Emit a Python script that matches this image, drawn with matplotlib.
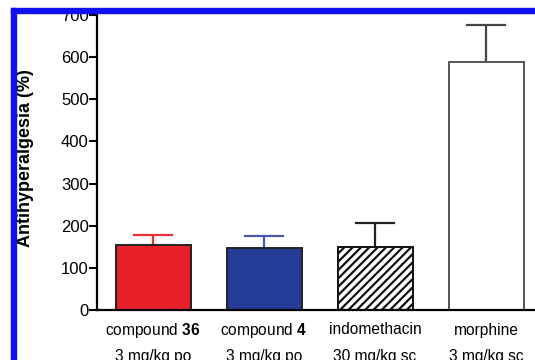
import numpy as np
import matplotlib.pyplot as plt
from matplotlib.patches import Rectangle
from matplotlib.transforms import blended_transform_factory, offset_copy

plt.rcParams['font.family'] = ['Liberation Sans', 'DejaVu Sans']
plt.rcParams['mathtext.fontset'] = 'custom'
plt.rcParams['mathtext.rm'] = 'Liberation Sans'
plt.rcParams['mathtext.bf'] = 'Liberation Sans:bold'
plt.rcParams['hatch.linewidth'] = 1.6

# Data
names = ["compound $\\mathbf{36}$", "compound $\\mathbf{4}$", "indomethacin", "morphine"]
doses = ["3 mg/kg po", "3 mg/kg po", "30 mg/kg sc", "3 mg/kg sc"]
values = [154, 147, 150, 588]
errors = [24, 29, 57, 88]
colors = ["#e8202a", "#253d96", "white", "white"]
edges = ["#222222", "#222222", "#111111", "#555555"]
errcolors = ["#e8303a", "#4a5aa8", "#222222", "#444444"]
hatches = [None, None, "////", None]

fig = plt.figure(figsize=(5.35, 3.6), dpi=100)
ax = fig.add_axes([97/535, 50/360, 1 - 97/535, 295/360])

x = np.arange(len(values))
for i in range(len(values)):
    ax.bar(x[i], values[i], width=0.675, color=colors[i], edgecolor=edges[i],
           linewidth=1.4, hatch=hatches[i], zorder=2)
    ax.errorbar(x[i], values[i] + errors[i] / 2, yerr=errors[i] / 2, fmt='none',
                ecolor=errcolors[i], elinewidth=1.6, capsize=0, zorder=1)
    ax.plot([x[i] - 0.17, x[i] + 0.17], [values[i] + errors[i]] * 2,
            color=errcolors[i], lw=1.6, zorder=1)

ax.set_xlim(-0.505, 3.44)
ax.set_ylim(0, 700)
ax.set_yticks(range(0, 701, 100))
ax.tick_params(axis='y', labelsize=12, length=6, width=1.5, pad=0)
ax.set_xticks([])
for s in ['top', 'right']:
    ax.spines[s].set_visible(False)
ax.spines['left'].set_linewidth(1.6)
ax.spines['bottom'].set_linewidth(1.6)

# two-line category labels
trans = blended_transform_factory(ax.transData, ax.transAxes)
for i in range(len(values)):
    ax.text(x[i], 0, names[i], fontsize=11.2, ha='center', va='center',
            transform=offset_copy(trans, fig=fig, y=-20, units='dots'))
    ax.text(x[i], 0, doses[i], fontsize=11.2, ha='center', va='center',
            transform=offset_copy(trans, fig=fig, y=-47, units='dots'))

fig.text(26/535, 1 - 158/360, "Antihyperalgesia (%)", fontsize=13, fontweight='bold',
         rotation=90, ha='center', va='center')

# blue frame of the clipped figure
fig.patches.append(Rectangle((11/535, 0), 5/535, 352/360, transform=fig.transFigure,
                             color='#1010f0', zorder=5))
fig.patches.append(Rectangle((11/535, 347/360), 1, 5/360, transform=fig.transFigure,
                             color='#1010f0', zorder=5))

fig.savefig("out.png", dpi=100)
